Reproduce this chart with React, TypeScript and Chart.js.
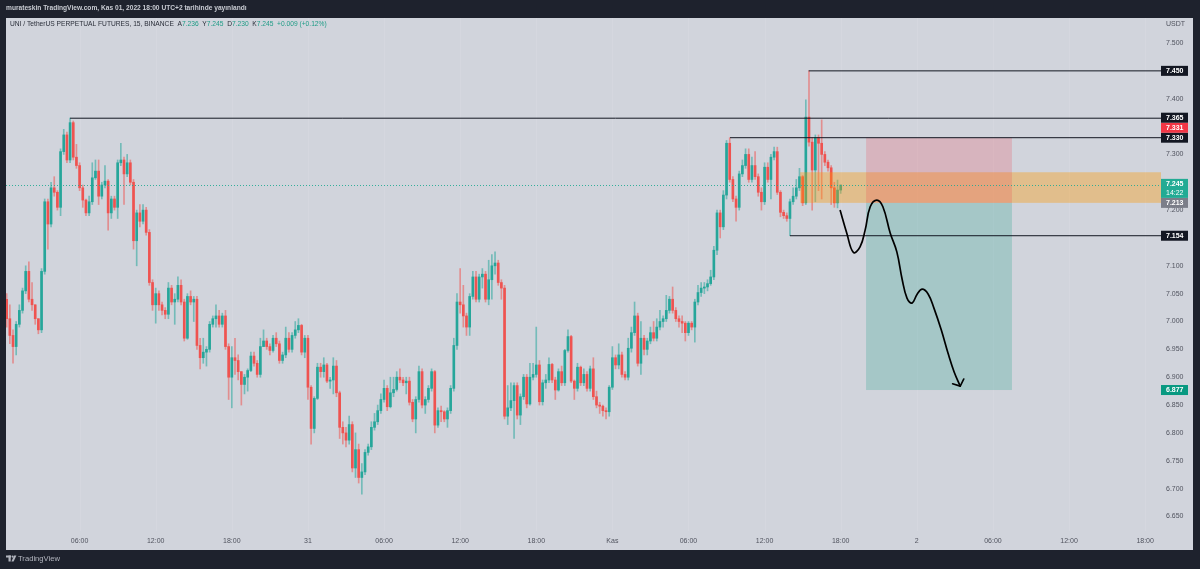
import React, { useEffect, useRef } from 'react';
import { Chart, registerables } from 'chart.js';
Chart.register(...registerables);

// ---------- DATA ----------
const FIRST_INDEX = 1; // bar index (15-min bars from 30 Oct 00:00)
const FIRST_OPEN = 7.04;
const closes = [
  7.005, 6.975, 6.955, 6.995, 7.02, 7.055, 7.09, 7.04, 7.03, 7.005,
  6.985, 7.09, 7.215, 7.175, 7.24, 7.232, 7.205, 7.305, 7.335, 7.29,
  7.357, 7.295, 7.28, 7.24, 7.218, 7.195, 7.215, 7.258, 7.27, 7.225,
  7.245, 7.252, 7.195, 7.22, 7.205, 7.285, 7.29, 7.265, 7.285, 7.25,
  7.145, 7.195, 7.18, 7.2, 7.16, 7.07, 7.03, 7.05, 7.03, 7.02,
  7.013, 7.06, 7.035, 7.04, 7.065, 7.035, 6.97, 7.045, 7.035, 7.04,
  6.957, 6.935, 6.945, 6.95, 6.995, 7.005, 7.01, 6.995, 7.01, 6.955,
  6.9, 6.935, 6.93, 6.91, 6.887, 6.9, 6.912, 6.938, 6.925, 6.905,
  6.955, 6.965, 6.955, 6.948, 6.97, 6.96, 6.93, 6.94, 6.97, 6.95,
  6.975, 6.985, 6.993, 6.945, 6.97, 6.882, 6.808, 6.862, 6.918, 6.91,
  6.922, 6.893, 6.895, 6.92, 6.872, 6.81, 6.8, 6.787, 6.815, 6.737,
  6.77, 6.72, 6.73, 6.765, 6.775, 6.81, 6.82, 6.84, 6.86, 6.88,
  6.847, 6.872, 6.878, 6.9, 6.895, 6.89, 6.893, 6.855, 6.825, 6.86,
  6.91, 6.85, 6.86, 6.88, 6.91, 6.814, 6.84, 6.838, 6.825, 6.84,
  6.88, 6.957, 7.035, 7.03, 7.01, 6.99, 7.045, 7.08, 7.04, 7.08,
  7.085, 7.04, 7.075, 7.1, 7.105, 7.07, 7.06, 6.83, 6.845, 6.858,
  6.885, 6.832, 6.865, 6.9, 6.852, 6.9, 6.905, 6.922, 6.856, 6.89,
  6.895, 6.923, 6.895, 6.877, 6.91, 6.89, 6.948, 6.973, 6.893, 6.88,
  6.918, 6.89, 6.905, 6.88, 6.915, 6.865, 6.85, 6.848, 6.84, 6.838,
  6.882, 6.935, 6.922, 6.94, 6.905, 6.9, 6.952, 6.98, 7.01, 6.925,
  6.97, 6.95, 6.965, 6.98, 6.97, 6.99, 7.0, 7.005, 7.02, 7.04,
  7.02, 7.005, 7.0, 6.997, 6.98, 6.997, 6.99, 7.035, 7.052, 7.06,
  7.062, 7.068, 7.08, 7.128, 7.195, 7.17, 7.227, 7.32, 7.255, 7.22,
  7.205, 7.265, 7.28, 7.3, 7.255, 7.28, 7.26, 7.232, 7.215, 7.277,
  7.255, 7.295, 7.305, 7.232, 7.196, 7.19, 7.185, 7.215, 7.225, 7.24,
  7.26, 7.213, 7.367, 7.322, 7.272, 7.33, 7.32, 7.3, 7.286, 7.276,
  7.24, 7.213, 7.236, 7.245,
];
const highs = [
  7.05, 7.03, 6.985, 7.0, 7.03, 7.06, 7.1, 7.107, 7.07, 7.03,
  7.005, 7.095, 7.22, 7.22, 7.25, 7.26, 7.235, 7.31, 7.345, 7.34,
  7.365, 7.36, 7.318, 7.285, 7.245, 7.22, 7.225, 7.285, 7.29, 7.29,
  7.25, 7.28, 7.255, 7.225, 7.225, 7.29, 7.32, 7.295, 7.3, 7.29,
  7.255, 7.2, 7.21, 7.21, 7.205, 7.165, 7.075, 7.06, 7.055, 7.035,
  7.025, 7.07, 7.065, 7.05, 7.08, 7.075, 7.04, 7.05, 7.055, 7.045,
  7.045, 6.97, 6.97, 6.955, 7.0, 7.01, 7.03, 7.02, 7.015, 7.02,
  6.96, 6.955, 6.97, 6.94, 6.91, 6.905, 6.915, 6.945, 6.945, 6.93,
  6.97, 6.985, 6.97, 6.96, 6.975, 6.98, 6.965, 6.945, 6.99, 6.98,
  6.98, 7.0, 7.005, 6.995, 6.975, 6.975, 6.885, 6.865, 6.925, 6.925,
  6.935, 6.925, 6.9, 6.935, 6.93, 6.875, 6.82, 6.81, 6.83, 6.82,
  6.8, 6.78, 6.745, 6.77, 6.78, 6.82, 6.835, 6.85, 6.87, 6.895,
  6.885, 6.9, 6.9, 6.91, 6.915, 6.9, 6.9, 6.9, 6.86, 6.865,
  6.92, 6.915, 6.865, 6.885, 6.915, 6.912, 6.845, 6.848, 6.84, 6.845,
  6.885, 6.97, 7.05, 7.095, 7.065, 7.015, 7.05, 7.09, 7.09, 7.085,
  7.095, 7.09, 7.11, 7.12, 7.125, 7.11, 7.075, 7.065, 6.885, 6.89,
  6.89, 6.89, 6.87, 6.905, 6.905, 6.925, 6.925, 6.99, 6.93, 6.895,
  6.905, 6.935, 6.925, 6.9, 6.915, 6.92, 6.95, 6.985, 6.975, 6.895,
  6.925, 6.92, 6.915, 6.91, 6.92, 6.935, 6.875, 6.855, 6.85, 6.845,
  6.885, 6.955, 6.94, 6.96, 6.945, 6.91, 6.97, 6.99, 7.035, 7.015,
  7.0, 6.975, 6.97, 6.99, 7.0, 7.005, 7.02, 7.01, 7.047, 7.045,
  7.062, 7.025, 7.01, 7.01, 7.0, 7.0, 7.0, 7.04, 7.065, 7.07,
  7.07, 7.075, 7.092, 7.135, 7.2, 7.2, 7.235, 7.325, 7.33, 7.26,
  7.225, 7.27, 7.29, 7.31, 7.31, 7.295, 7.305, 7.265, 7.24, 7.285,
  7.285, 7.3, 7.313, 7.313, 7.235, 7.2, 7.195, 7.22, 7.24, 7.255,
  7.275, 7.262, 7.398, 7.45, 7.33, 7.335, 7.335, 7.362, 7.305, 7.29,
  7.28, 7.25, 7.254, 7.245,
];
const lows = [
  6.99, 6.96, 6.925, 6.94, 6.99, 7.015, 7.05, 7.035, 7.02, 6.995,
  6.978, 6.98, 7.085, 7.13, 7.17, 7.225, 7.2, 7.19, 7.3, 7.285,
  7.285, 7.29, 7.275, 7.235, 7.205, 7.19, 7.19, 7.21, 7.255, 7.21,
  7.22, 7.24, 7.164, 7.185, 7.2, 7.185, 7.28, 7.21, 7.26, 7.245,
  7.13, 7.1, 7.17, 7.175, 7.155, 7.065, 7.02, 6.997, 7.02, 7.012,
  7.005, 7.005, 7.03, 6.995, 7.035, 7.03, 6.965, 6.968, 7.03, 7.0,
  6.95, 6.915, 6.925, 6.92, 6.945, 6.99, 6.99, 6.99, 6.99, 6.95,
  6.86, 6.845, 6.905, 6.895, 6.85, 6.87, 6.875, 6.91, 6.92, 6.9,
  6.9, 6.955, 6.95, 6.94, 6.945, 6.955, 6.925, 6.925, 6.935, 6.945,
  6.945, 6.97, 6.98, 6.94, 6.935, 6.86, 6.78, 6.8, 6.86, 6.9,
  6.9, 6.89, 6.88, 6.87, 6.865, 6.79, 6.78, 6.775, 6.78, 6.73,
  6.72, 6.71, 6.69, 6.725, 6.76, 6.77, 6.805, 6.815, 6.835, 6.855,
  6.84, 6.845, 6.865, 6.875, 6.89, 6.885, 6.87, 6.85, 6.82, 6.8,
  6.855, 6.845, 6.835, 6.855, 6.875, 6.8, 6.81, 6.82, 6.82, 6.81,
  6.835, 6.875, 6.95, 7.015, 6.99, 6.975, 6.975, 7.04, 7.035, 7.035,
  7.06, 7.035, 7.03, 7.04, 7.085, 7.065, 7.04, 6.825, 6.815, 6.84,
  6.79, 6.825, 6.815, 6.86, 6.845, 6.85, 6.895, 6.9, 6.85, 6.85,
  6.88, 6.89, 6.89, 6.86, 6.875, 6.885, 6.885, 6.945, 6.89, 6.86,
  6.875, 6.885, 6.885, 6.875, 6.875, 6.86, 6.845, 6.835, 6.83, 6.825,
  6.83, 6.878, 6.915, 6.915, 6.9, 6.895, 6.895, 6.945, 6.975, 6.92,
  6.905, 6.94, 6.94, 6.96, 6.965, 6.965, 6.985, 6.99, 7.0, 7.015,
  7.015, 7.0, 6.99, 6.98, 6.965, 6.975, 6.985, 6.963, 7.03, 7.045,
  7.05, 7.055, 7.065, 7.075, 7.12, 7.15, 7.165, 7.22, 7.25, 7.215,
  7.18, 7.2, 7.26, 7.275, 7.25, 7.25, 7.255, 7.225, 7.2, 7.21,
  7.25, 7.22, 7.29, 7.228, 7.188, 7.185, 7.18, 7.154, 7.21, 7.22,
  7.235, 7.208, 7.21, 7.315, 7.2, 7.215, 7.235, 7.22, 7.28, 7.27,
  7.21, 7.205, 7.204, 7.23,
];

const timeTickIdx = [24, 48, 72, 96, 120, 144, 168, 192, 216, 240, 264, 288, 312, 336, 360];
const timeTickLabels = ['06:00', '12:00', '18:00', '31', '06:00', '12:00', '18:00', 'Kas', '06:00', '12:00', '18:00', '2', '06:00', '12:00', '18:00'];
const priceTicks = [7.5, 7.45, 7.4, 7.35, 7.3, 7.25, 7.2, 7.15, 7.1, 7.05, 7.0, 6.95, 6.9, 6.85, 6.8, 6.75, 6.7, 6.65];

const rayLevels = [7.45, 7.365, 7.33, 7.154];
const rayStarts = [253.9, 21, 229.1, 248];

const zoneStart = 251.2;
const zoneTop = 7.268;
const zoneBottom = 7.213;

const positionStart = 272;
const positionEnd = 318;
const positionStop = 7.33;
const positionEntry = 7.213;
const positionTarget = 6.877;

const pathX = [263.8, 265.9, 268.0, 270.1, 271.7, 273.3, 275.4, 277.3, 279.6, 281.7, 283.4, 284.9, 286.5, 288.1, 289.7, 291.6, 293.4, 295.7, 297.9, 299.8, 301.7];
const pathY = [7.2, 7.159, 7.124, 7.134, 7.164, 7.206, 7.218, 7.206, 7.159, 7.125, 7.075, 7.042, 7.033, 7.049, 7.058, 7.049, 7.024, 6.985, 6.942, 6.909, 6.884];

const labelValues = [7.45, 7.365, 7.331, 7.33, 7.245, 7.213, 7.154, 6.877];
const labelKinds = ['level', 'level', 'stop', 'level', 'last', 'entry', 'level', 'target'];
const LAST_PRICE = 7.245;
const COUNTDOWN = '14:22';

const HEADER_TEXT = 'murateskin TradingView.com, Kas 01, 2022 18:00 UTC+2 tarihinde yayınlandı';
const SYMBOL_TEXT = 'UNI / TetherUS PERPETUAL FUTURES, 15, BINANCE';
const ohlcLetters = ['A', 'Y', 'D', 'K'];
const ohlcValues = ['7.236', '7.245', '7.230', '7.245'];
const CHANGE_TEXT = '+0.009 (+0.12%)';
const AXIS_UNIT = 'USDT';
const BRAND = 'TradingView';

// ---------- STYLE ----------
const W = 1200;
const H = 569;
const DARK = '#1e222d';
const PANEL = '#d1d4dc';
const UP = '#26a69a';
const DOWN = '#ef5350';
const UP_WICK = 'rgba(38,166,154,0.55)';
const DOWN_WICK = 'rgba(239,83,80,0.55)';
const FONT = '"Liberation Sans", Arial, sans-serif';
const PANEL_RIGHT = 1193;
const PANEL_BOTTOM = 550;
const labelStyles: Record<string, string> = {
  level: '#131722',
  stop: '#f23645',
  last: '#22ab94',
  entry: '#7b7e89',
  target: '#089981',
};

const idx = closes.map((_, k) => FIRST_INDEX + k);
const opens = closes.map((_, k) => (k === 0 ? FIRST_OPEN : closes[k - 1]));

function fitFont(ctx: CanvasRenderingContext2D, text: string, target: number, weight = 'normal') {
  ctx.font = `${weight} 10px ${FONT}`;
  const w = ctx.measureText(text).width;
  const s = (10 * target) / w;
  return `${weight} ${s.toFixed(2)}px ${FONT}`;
}

const overlay = {
  id: 'tvOverlay',
  beforeDraw(chart: any) {
    const { ctx, chartArea: a, scales } = chart;
    const x = scales.x;
    ctx.save();
    ctx.fillStyle = DARK;
    ctx.fillRect(0, 0, W, H);
    ctx.fillStyle = PANEL;
    ctx.fillRect(a.left, a.top, PANEL_RIGHT - a.left, PANEL_BOTTOM - a.top);
    ctx.strokeStyle = 'rgba(255,255,255,0.09)';
    ctx.lineWidth = 1;
    timeTickIdx.forEach((i) => {
      const px = Math.round(x.getPixelForValue(i)) + 0.5;
      ctx.beginPath();
      ctx.moveTo(px, a.top);
      ctx.lineTo(px, a.bottom);
      ctx.stroke();
    });
    ctx.restore();
  },
  afterDatasetDraw(chart: any, args: any) {
    if (args.index !== 1) return;
    const { ctx, chartArea: a, scales } = chart;
    const x = scales.x;
    const y = scales.y;
    ctx.save();
    // orange zone
    const zx = x.getPixelForValue(zoneStart);
    ctx.fillStyle = 'rgba(255,152,0,0.36)';
    ctx.fillRect(zx, y.getPixelForValue(zoneTop), a.right - zx, y.getPixelForValue(zoneBottom) - y.getPixelForValue(zoneTop));
    // short position
    const px1 = x.getPixelForValue(positionStart);
    const px2 = x.getPixelForValue(positionEnd);
    const yS = y.getPixelForValue(positionStop);
    const yE = y.getPixelForValue(positionEntry);
    const yT = y.getPixelForValue(positionTarget);
    ctx.fillStyle = 'rgba(242,54,69,0.2)';
    ctx.fillRect(px1, yS, px2 - px1, yE - yS);
    ctx.fillStyle = 'rgba(8,153,129,0.22)';
    ctx.fillRect(px1, yE, px2 - px1, yT - yE);
    // last price dotted line
    const ly = Math.round(y.getPixelForValue(LAST_PRICE)) + 0.5;
    ctx.strokeStyle = 'rgba(34,171,148,0.9)';
    ctx.setLineDash([1, 2]);
    ctx.beginPath();
    ctx.moveTo(a.left, ly);
    ctx.lineTo(a.right, ly);
    ctx.stroke();
    ctx.restore();
  },
  afterDatasetsDraw(chart: any) {
    const { ctx } = chart;
    const meta = chart.getDatasetMeta(chart.data.datasets.length - 1);
    const pts = meta.data;
    if (pts.length < 2) return;
    const p2 = pts[pts.length - 1];
    const p1 = pts[pts.length - 2];
    const ang = Math.atan2(p1.y - p2.y, p1.x - p2.x);
    const len = 8;
    ctx.save();
    ctx.strokeStyle = '#000';
    ctx.lineWidth = 1.6;
    ctx.lineCap = 'round';
    [-0.87, 0.87].forEach((d) => {
      ctx.beginPath();
      ctx.moveTo(p2.x, p2.y);
      ctx.lineTo(p2.x + len * Math.cos(ang + d), p2.y + len * Math.sin(ang + d));
      ctx.stroke();
    });
    ctx.restore();
  },
  afterDraw(chart: any) {
    const { ctx, chartArea: a, scales } = chart;
    const x = scales.x;
    const y = scales.y;
    ctx.save();
    ctx.textBaseline = 'middle';
    // price axis ticks
    ctx.font = `7px ${FONT}`;
    ctx.fillStyle = '#50535e';
    ctx.textAlign = 'left';
    priceTicks.forEach((v) => {
      const py = y.getPixelForValue(v);
      if (py < a.top + 10 || py > a.bottom) return;
      ctx.fillText(v.toFixed(3), a.right + 5, py);
    });
    ctx.fillText(AXIS_UNIT, a.right + 5, 24.5);
    // time axis
    ctx.textAlign = 'center';
    timeTickIdx.forEach((i, k) => {
      ctx.fillText(timeTickLabels[k], x.getPixelForValue(i), 541.5);
    });
    // price labels, resolved bottom-up
    const items = labelValues.map((v, k) => ({ v, kind: labelKinds[k], y: y.getPixelForValue(v) }));
    const order = items.map((_, k) => k).sort((p, q) => items[q].y - items[p].y);
    let limit = Infinity;
    const placed: any[] = [];
    order.forEach((k) => {
      const it = items[k];
      const below = it.kind === 'last' ? 14 : 5;
      let c = it.y;
      if (c + below > limit) c = limit - below;
      limit = c - 5;
      placed.push({ ...it, c, below });
    });
    placed.forEach((it) => {
      ctx.fillStyle = labelStyles[it.kind];
      ctx.fillRect(a.right, it.c - 5, 27, 5 + it.below);
      ctx.fillStyle = '#ffffff';
      ctx.textAlign = 'left';
      ctx.font = `bold 7px ${FONT}`;
      ctx.fillText(it.v.toFixed(3), a.right + 5, it.c + 0.5);
      if (it.kind === 'last') {
        ctx.font = `7px ${FONT}`;
        ctx.fillText(COUNTDOWN, a.right + 5, it.c + 9);
      }
    });
    // header
    ctx.textAlign = 'left';
    ctx.fillStyle = '#c9ccd3';
    ctx.font = fitFont(ctx, HEADER_TEXT, 241, '600');
    ctx.fillText(HEADER_TEXT, 6, 8.5);
    // legend
    const segs: [string, string][] = [[SYMBOL_TEXT + '  ', '#2a2e39']];
    ohlcLetters.forEach((l, k) => {
      segs.push([l, '#2a2e39']);
      segs.push([ohlcValues[k] + '  ', '#1f9c86']);
    });
    segs.push([CHANGE_TEXT, '#1f9c86']);
    const full = segs.map((s) => s[0]).join('');
    ctx.font = fitFont(ctx, full, 317);
    let cx = 10;
    segs.forEach(([t, col]) => {
      ctx.fillStyle = col;
      ctx.fillText(t, cx, 24.5);
      cx += ctx.measureText(t).width;
    });
    // logo
    ctx.fillStyle = '#b2b5be';
    ctx.fillRect(6, 555.5, 5, 2);
    ctx.fillRect(8.5, 555.5, 2.2, 6);
    ctx.beginPath();
    ctx.arc(12.6, 556.6, 1.1, 0, Math.PI * 2);
    ctx.fill();
    ctx.beginPath();
    ctx.moveTo(14.2, 555.5);
    ctx.lineTo(16.4, 555.5);
    ctx.lineTo(13.6, 561.5);
    ctx.lineTo(11.4, 561.5);
    ctx.closePath();
    ctx.fill();
    ctx.font = fitFont(ctx, BRAND, 42);
    ctx.fillText(BRAND, 18, 558.5);
    ctx.restore();
  },
};

export default function App() {
  const ref = useRef<HTMLCanvasElement>(null);
  useEffect(() => {
    document.body.style.margin = '0';
    document.body.style.background = DARK;
    const canvas = ref.current!;
    const bodyData = idx.map((i, k) => ({ x: i, y: [opens[k], closes[k]] }));
    const wickData = idx.map((i, k) => ({
      x: i,
      y: [Math.min(lows[k], opens[k], closes[k]), Math.max(highs[k], opens[k], closes[k])],
    }));
    const isUp = idx.map((_, k) => closes[k] >= opens[k]);
    const rays = rayLevels.map((v, k) => ({
      type: 'line' as const,
      data: [{ x: rayStarts[k], y: v }, { x: 365, y: v }],
      borderColor: '#131722',
      borderWidth: 1,
      pointRadius: 0,
      order: 1,
    }));
    const chart = new Chart(canvas, {
      type: 'bar',
      data: {
        datasets: [
          {
            data: wickData as any,
            backgroundColor: isUp.map((u) => (u ? UP_WICK : DOWN_WICK)),
            barThickness: 1,
            grouped: false,
            borderWidth: 0,
            order: 3,
          } as any,
          {
            data: bodyData as any,
            backgroundColor: isUp.map((u) => (u ? UP : DOWN)),
            barThickness: 2,
            grouped: false,
            minBarLength: 1,
            borderWidth: 0,
            order: 2,
          } as any,
          ...rays,
          {
            type: 'line',
            data: pathX.map((px, k) => ({ x: px, y: pathY[k] })),
            borderColor: '#000000',
            borderWidth: 1.7,
            pointRadius: 0,
            tension: 0.4,
            order: 0,
          } as any,
        ],
      },
      options: {
        animation: false,
        responsive: false,
        maintainAspectRatio: false,
        events: [],
        layout: { padding: { left: 6, right: 39, top: 18, bottom: 38 } },
        plugins: { legend: { display: false }, tooltip: { enabled: false } },
        scales: {
          x: { type: 'linear', min: 0.79, max: 365, display: false, offset: false },
          y: { type: 'linear', min: 6.6239, max: 7.5449, display: false, beginAtZero: false },
        },
      },
      plugins: [overlay],
    });
    return () => chart.destroy();
  }, []);
  return (
    <div style={{ position: 'fixed', left: 0, top: 0, width: W, height: H, background: DARK }}>
      <canvas ref={ref} width={W} height={H} style={{ display: 'block', width: W, height: H }} />
    </div>
  );
}
